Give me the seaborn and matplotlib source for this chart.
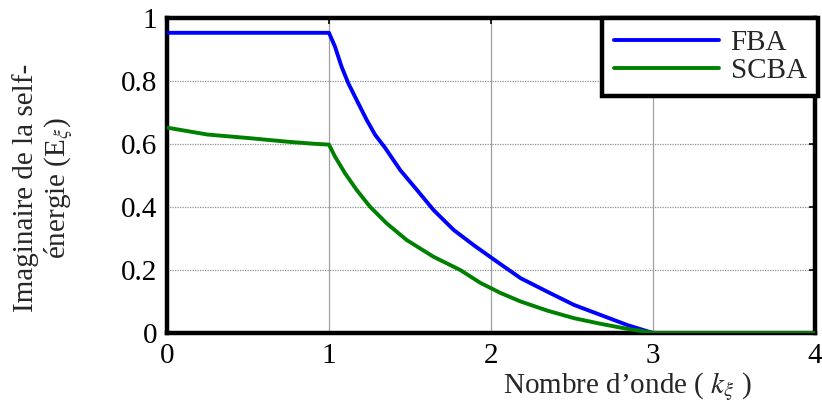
import numpy as np
import pandas as pd
import matplotlib
matplotlib.use("Agg")
import matplotlib.pyplot as plt
from matplotlib.ticker import FuncFormatter
import seaborn as sns

# Imaginary part of the self-energy versus wave number
k_fba = [0.0, 1.0, 1.037, 1.078, 1.119, 1.181, 1.233, 1.285, 1.346, 1.44, 1.543,
         1.646, 1.77, 1.893, 2.038, 2.183, 2.348, 2.513, 2.678, 2.843, 2.956, 3.0, 4.0]
e_fba = [0.953, 0.953, 0.909, 0.845, 0.793, 0.729, 0.676, 0.629, 0.588, 0.517, 0.454,
         0.390, 0.327, 0.279, 0.226, 0.174, 0.131, 0.089, 0.057, 0.025, 0.007, 0.0, 0.0]

k_scba = [0.0, 0.25, 0.5, 0.75, 0.9, 1.0, 1.037, 1.099, 1.171, 1.253, 1.356, 1.48,
          1.645, 1.81, 1.935, 2.059, 2.183, 2.348, 2.513, 2.678, 2.843, 2.956, 3.0, 4.0]
e_scba = [0.652, 0.630, 0.619, 0.607, 0.601, 0.598, 0.560, 0.507, 0.454, 0.401, 0.348,
          0.295, 0.242, 0.200, 0.159, 0.127, 0.100, 0.071, 0.047, 0.029, 0.013, 0.004,
          0.0, 0.0]

series_names = ["FBA", "SCBA"]
x_ticks = [0, 1, 2, 3, 4]
y_ticks = [0, 0.2, 0.4, 0.6, 0.8, 1]

df = pd.concat([
    pd.DataFrame({"k": k_fba, "E": e_fba, "method": series_names[0]}),
    pd.DataFrame({"k": k_scba, "E": e_scba, "method": series_names[1]}),
], ignore_index=True)

sns.set_style("white")
plt.rcParams["font.family"] = ["Liberation Serif", "DejaVu Serif"]
plt.rcParams["mathtext.fontset"] = "stix"

FS = 21

fig = plt.figure(figsize=(8.22, 4.03), dpi=100)
ax = fig.add_axes([167 / 822, 1 - 333 / 403, 648 / 822, 315 / 403])

sns.lineplot(data=df, x="k", y="E", hue="method", sort=False, ax=ax,
             palette={"FBA": "#0000ff", "SCBA": "#008000"}, linewidth=2.8,
             estimator=None, zorder=3)

ax.set_xlim(0, 4)
ax.set_ylim(0, 1)
ax.set_xticks(x_ticks)
ax.set_yticks(y_ticks)
ax.xaxis.set_major_formatter(FuncFormatter(lambda v, p: f"{v:g}"))
ax.yaxis.set_major_formatter(FuncFormatter(lambda v, p: f"{v:g}"))

# vertical grid solid, horizontal grid dotted
ax.xaxis.grid(True, color="#a0a0a0", linestyle="-", linewidth=0.9)
ax.yaxis.grid(True, color="#909090", linestyle=(0, (1, 1)), linewidth=0.9)
ax.set_axisbelow(True)

for side in ["left", "right", "top", "bottom"]:
    ax.spines[side].set_visible(True)
    ax.spines[side].set_color("black")
    ax.spines[side].set_linewidth(3.2)

ax.tick_params(direction="in", length=4, width=1.2, top=True, right=True,
               labelsize=FS, colors="black")
ax.tick_params(axis="y", pad=7)
ax.tick_params(axis="x", pad=7)

ax.set_xlabel("Nombre d’onde ( $k_\\xi$ )", fontsize=FS)
ax.xaxis.set_label_coords(0.71, -0.118)
ax.set_ylabel("Imaginaire de la self-\nénergie (E$_\\xi$)", fontsize=FS,
              linespacing=1.15)
ax.yaxis.set_label_coords(-0.14, 0.46)

leg = ax.legend(loc="upper right", bbox_to_anchor=(1.005, 1.0), borderaxespad=0,
                fontsize=FS, handlelength=3.6, handletextpad=0.4,
                labelspacing=0.05, frameon=True, fancybox=False, framealpha=1,
                edgecolor="black", borderpad=0.4, title=None)
leg.get_frame().set_linewidth(3.2)
for line in leg.get_lines():
    line.set_linewidth(2.8)

fig.savefig("out.png", dpi=100)
